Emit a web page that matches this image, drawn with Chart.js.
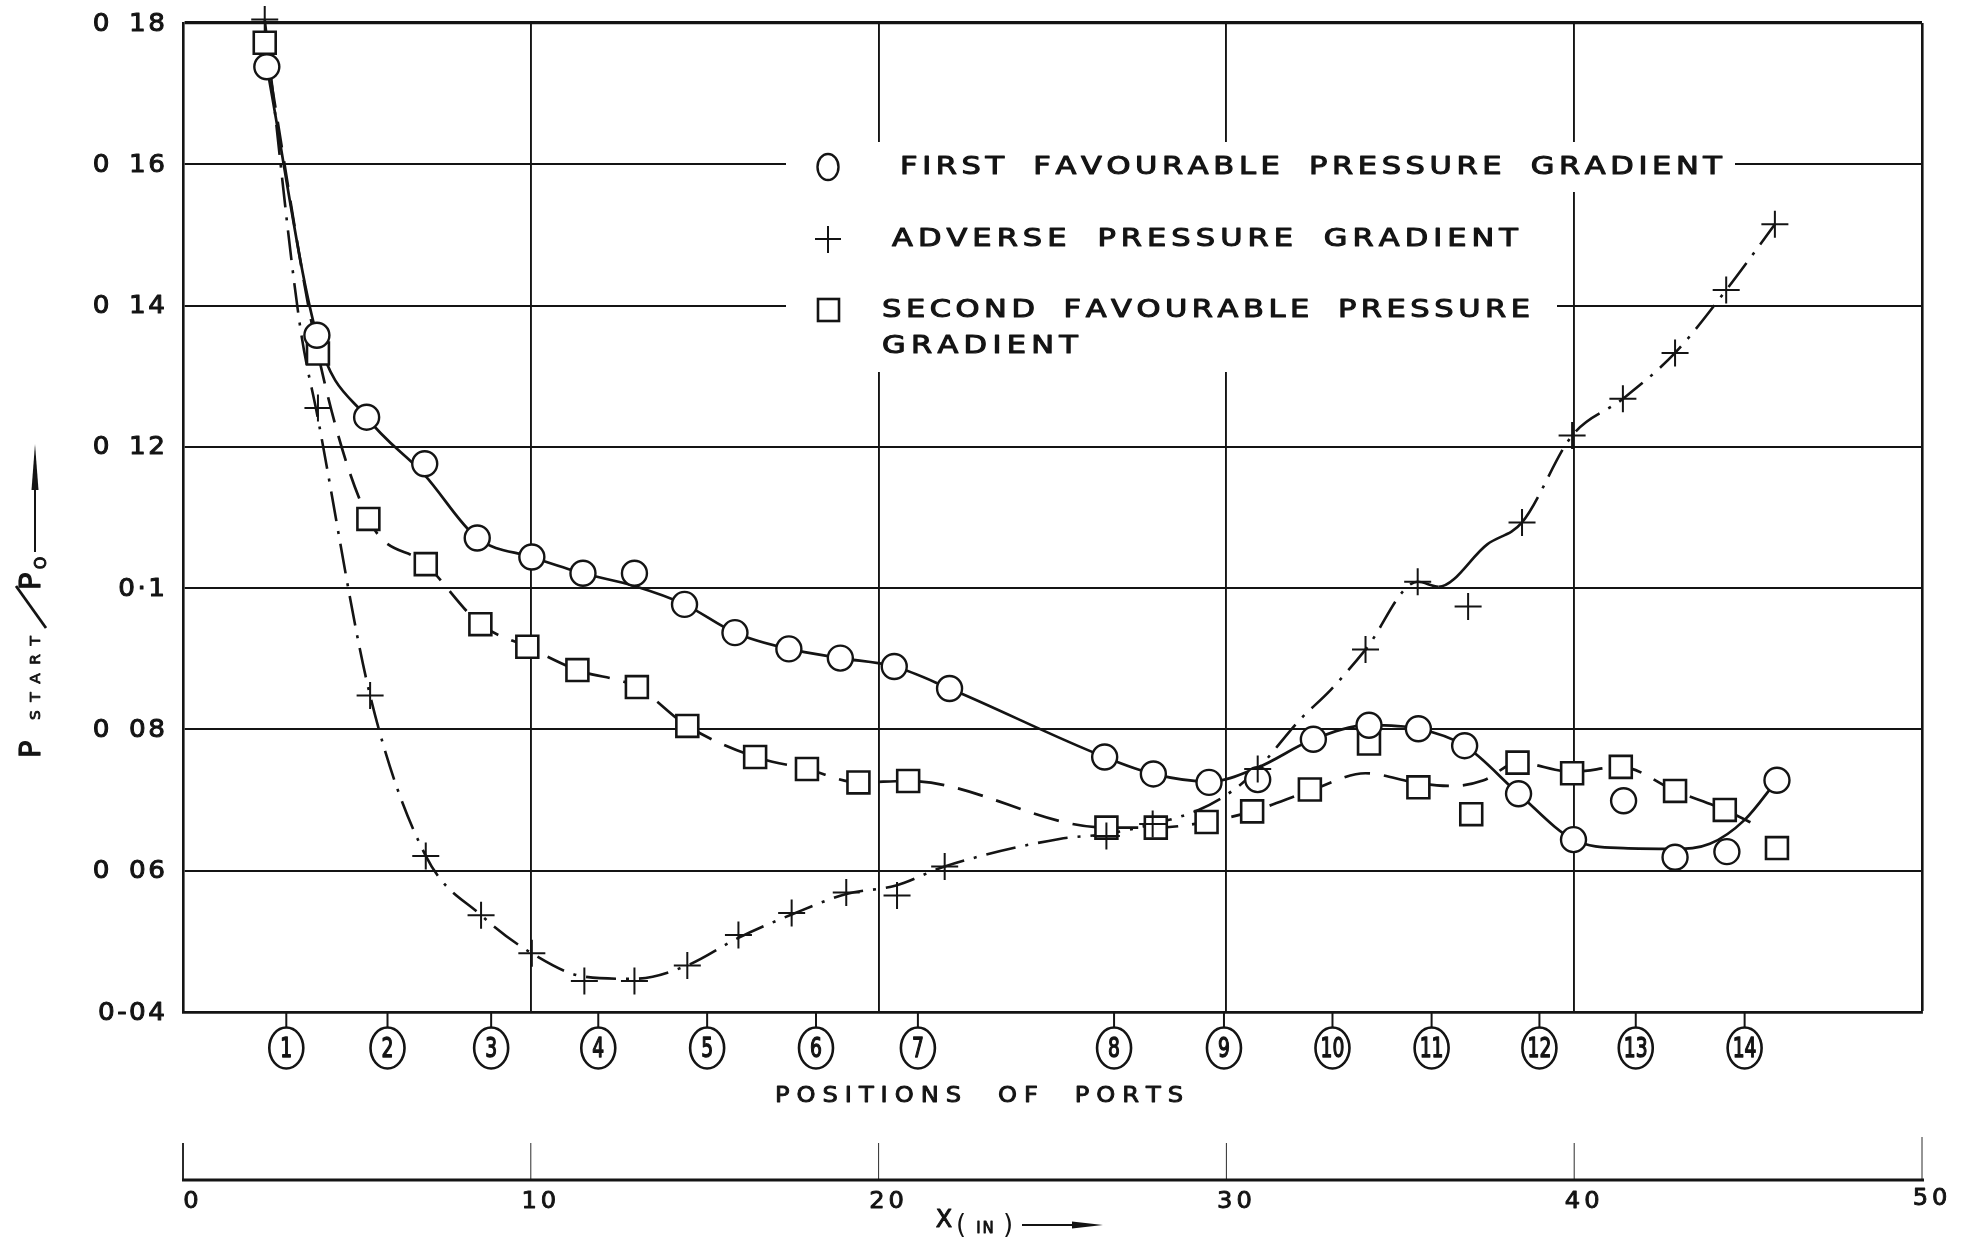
<!DOCTYPE html>
<html><head><meta charset="utf-8">
<script src="https://cdn.jsdelivr.net/npm/chart.js@4/dist/chart.umd.min.js"></script>
<style>html,body{margin:0;padding:0;background:#fff;}canvas{display:block;}</style>
</head><body>
<canvas id="c" width="1983" height="1240"></canvas>
<script>
// ---------------- data ----------------
// x = X (inches), y = p_start / p_0
const firstFavX = [2.41, 3.85, 5.28, 6.95, 8.46, 10.03, 11.5, 12.98, 14.42, 15.87, 17.42, 18.9, 20.45, 22.04, 26.5, 27.9, 29.5, 30.9, 32.5, 34.1, 35.52, 36.85, 38.4, 39.98, 41.42, 42.9, 44.39, 45.83];
const firstFavY = [0.1738, 0.1358, 0.1242, 0.1176, 0.1071, 0.1044, 0.1021, 0.1021, 0.0977, 0.0937, 0.0914, 0.0901, 0.0889, 0.0858, 0.0761, 0.0737, 0.0725, 0.0729, 0.0786, 0.0806, 0.0801, 0.0777, 0.0709, 0.0644, 0.0699, 0.0619, 0.0627, 0.0728];

const adverseX = [2.35, 3.88, 5.38, 6.98, 8.57, 10.03, 11.54, 12.98, 14.5, 15.97, 17.5, 19.07, 20.53, 21.9, 26.55, 27.88, 30.9, 34.0, 35.5, 36.95, 38.5, 39.94, 41.4, 42.9, 44.37, 45.77];
const adverseY = [0.1805, 0.1255, 0.0848, 0.0621, 0.0537, 0.0483, 0.0444, 0.0444, 0.0466, 0.0509, 0.054, 0.0569, 0.0565, 0.0606, 0.0649, 0.0666, 0.0744, 0.0913, 0.1009, 0.0974, 0.1093, 0.1216, 0.1268, 0.1333, 0.1422, 0.1515];

const secondFavX = [2.35, 3.88, 5.33, 6.98, 8.55, 9.9, 11.34, 13.05, 14.5, 16.45, 17.94, 19.42, 20.85, 26.55, 27.97, 29.43, 30.74, 32.4, 34.1, 35.52, 37.04, 38.37, 39.94, 41.34, 42.9, 44.33, 45.83];
const secondFavY = [0.1772, 0.1332, 0.1098, 0.1034, 0.0949, 0.0917, 0.0884, 0.086, 0.0805, 0.0761, 0.0744, 0.0725, 0.0727, 0.0661, 0.0661, 0.0669, 0.0684, 0.0715, 0.078, 0.0718, 0.068, 0.0753, 0.0738, 0.0747, 0.0713, 0.0686, 0.0632];

// faired curves as drawn in the picture
const firstCurveX = [2.41, 3.85, 5.28, 6.95, 8.46, 10.03, 11.5, 12.98, 14.42, 15.87, 17.42, 18.9, 20.45, 22.04, 26.5, 27.9, 29.5, 30.9, 32.5, 34.1, 35.52, 36.85, 38.4, 39.98, 41.42, 42.9, 43.9, 44.9, 45.83];
const firstCurveY = [0.1738, 0.1358, 0.1242, 0.1160, 0.1071, 0.1044, 0.1021, 0.1003, 0.0977, 0.0937, 0.0914, 0.0901, 0.0889, 0.0858, 0.0761, 0.0737, 0.0726, 0.0746, 0.0786, 0.0806, 0.0801, 0.0777, 0.0709, 0.0644, 0.0632, 0.0631, 0.0638, 0.0672, 0.0728];

const secondCurveX = [2.35, 3.88, 5.33, 6.98, 8.55, 9.9, 11.34, 13.05, 14.5, 16.45, 17.94, 19.42, 20.85, 26.55, 27.97, 29.43, 30.74, 32.4, 34.0, 35.5, 36.5, 37.4, 38.37, 39.94, 41.34, 42.9, 44.33, 45.3];
const secondCurveY = [0.1772, 0.1332, 0.1098, 0.1034, 0.0949, 0.0917, 0.0884, 0.086, 0.0805, 0.0761, 0.0744, 0.0725, 0.0727, 0.0661, 0.0661, 0.0669, 0.0684, 0.0713, 0.0738, 0.0724, 0.0720, 0.0728, 0.0753, 0.0740, 0.0747, 0.0713, 0.0686, 0.0663];

const adverseCurveX = [2.35, 3.36, 3.88, 5.38, 6.98, 8.57, 10.03, 11.54, 12.98, 14.5, 15.97, 17.5, 19.07, 20.5, 21.9, 25.2, 26.55, 27.88, 29.2, 30.2, 30.9, 32.1, 33.0, 34.0, 35.5, 36.1, 37.5, 38.5, 39.94, 41.4, 42.9, 44.37, 45.77];
const adverseCurveY = [0.1805, 0.1373, 0.1240, 0.0848, 0.0621, 0.0537, 0.0483, 0.0450, 0.0447, 0.0466, 0.0505, 0.0538, 0.0567, 0.0579, 0.0606, 0.0645, 0.0652, 0.0666, 0.0686, 0.0714, 0.0744, 0.0813, 0.0856, 0.0913, 0.1009, 0.1002, 0.1062, 0.1093, 0.1216, 0.1268, 0.1333, 0.1422, 0.1515];

// axes / labels
const yTickValues = [0.04, 0.06, 0.08, 0.10, 0.12, 0.14, 0.16, 0.18];
const yTickLabels = ['0-04', '0 06', '0 08', '0·1', '0 12', '0 14', '0 16', '0 18'];
const xTickValues = [0, 10, 20, 30, 40, 50];
const xTickLabels = ['0', '10', '20', '30', '40', '50'];
const portPositions = [2.97, 5.88, 8.86, 11.94, 15.07, 18.2, 21.13, 26.77, 29.93, 33.05, 35.9, 39.0, 41.77, 44.9];
const portLabels = ['1','2','3','4','5','6','7','8','9','10','11','12','13','14'];
const seriesNames = ['FIRST FAVOURABLE PRESSURE GRADIENT', 'ADVERSE PRESSURE GRADIENT', 'SECOND FAVOURABLE PRESSURE', 'GRADIENT'];
const portsTitle = 'POSITIONS OF PORTS';

// ---------------- drawing ----------------
const INK = '#141414';
const FONT = "'DejaVu Sans', 'Liberation Sans', sans-serif";
const pts = (xs, ys) => xs.map((x, i) => ({x: x, y: ys[i]}));

// draws lettering-like text: each glyph widened by sx, optional stroke, spacing to fit a width
function spaced(ctx, text, x, y, width, size, opts) {
  opts = opts || {};
  const sx = opts.sx || 1;
  ctx.font = (opts.weight || '') + ' ' + size + 'px ' + FONT;
  const chars = Array.from(text);
  const ws = chars.map(c => ctx.measureText(c).width * sx);
  const nat = ws.reduce((a, b) => a + b, 0);
  const nSp = chars.filter(c => c === ' ').length;
  const wsf = opts.wsf === undefined ? 1.5 : opts.wsf;
  let ls = opts.ls || 0;
  if (width) ls = (width - nat) / ((chars.length - 1) + wsf * nSp);
  const total = nat + ls * (chars.length - 1) + wsf * ls * nSp;
  let cx = x;
  if (opts.align === 'center') cx = x - total / 2;
  else if (opts.align === 'right') cx = x - total;
  ctx.textAlign = 'left';
  ctx.textBaseline = opts.baseline || 'middle';
  ctx.lineWidth = opts.stroke || 0;
  ctx.lineJoin = 'round';
  chars.forEach((c, i) => {
    ctx.save();
    ctx.translate(cx, y);
    ctx.scale(sx, 1);
    ctx.fillText(c, 0, 0);
    if (opts.stroke) ctx.strokeText(c, 0, 0);
    ctx.restore();
    cx += ws[i] + ls + (c === ' ' ? wsf * ls : 0);
  });
}

const paper = {
  id: 'paper',
  beforeDatasetsDraw(chart) {
    const ctx = chart.ctx;
    ctx.save();
    // legend background interrupts the grid, as in the drawing
    ctx.fillStyle = '#fff';
    ctx.fillRect(786, 142, 1735 - 786, 50);
    ctx.fillRect(786, 192, 1557 - 786, 180);
    ctx.fillStyle = INK; ctx.strokeStyle = INK; ctx.lineWidth = 2.4;
    // legend symbols
    ctx.beginPath(); ctx.ellipse(828, 167, 10.5, 13, 0, 0, Math.PI * 2); ctx.stroke();
    ctx.lineWidth = 2;
    ctx.beginPath(); ctx.moveTo(815, 239); ctx.lineTo(841, 239); ctx.moveTo(828, 226); ctx.lineTo(828, 253); ctx.stroke();
    ctx.lineWidth = 2.6;
    ctx.strokeRect(818, 299, 21, 22);
    // legend texts
    const lo = {sx: 1.22, stroke: 1.1, wsf: 2.2};
    spaced(ctx, seriesNames[0], 900, 167, 822, 25, lo);
    spaced(ctx, seriesNames[1], 892, 239, 626, 25, lo);
    spaced(ctx, seriesNames[2], 882, 310, 648, 25, lo);
    spaced(ctx, seriesNames[3], 882, 346, 196, 25, lo);
    ctx.restore();
  },
  afterDraw(chart) {
    const ctx = chart.ctx;
    const xs = chart.scales.x, ys = chart.scales.y;
    const bottom = chart.chartArea.bottom;
    ctx.save();
    ctx.fillStyle = INK; ctx.strokeStyle = INK;

    // y tick labels
    yTickValues.forEach((v, i) => {
      spaced(ctx, yTickLabels[i], 165, ys.getPixelForValue(v) + 1, null, 25, {ls: 2.5, wsf: 2.5, align: 'right', sx: 1.05, stroke: 1});
    });

    // ports axis
    portPositions.forEach((p, i) => {
      const px = xs.getPixelForValue(p);
      ctx.lineWidth = 2;
      ctx.beginPath(); ctx.moveTo(px, bottom); ctx.lineTo(px, 1028); ctx.stroke();
      ctx.lineWidth = 2.6;
      ctx.beginPath(); ctx.ellipse(px, 1048, 17, 20.5, 0, 0, Math.PI * 2); ctx.stroke();
      ctx.save();
      ctx.translate(px, 1050);
      ctx.scale(0.72, 1);
      ctx.font = '26px ' + FONT;
      ctx.lineWidth = 1.4;
      ctx.textAlign = 'center'; ctx.textBaseline = 'middle';
      ctx.fillText(portLabels[i], 0, 0);
      ctx.strokeText(portLabels[i], 0, 0);
      ctx.restore();
    });
    spaced(ctx, portsTitle, 979, 1097, 408, 21, {align: 'center', sx: 1.15, stroke: 0.9, wsf: 2.2});

    // lower X axis
    const x0 = xs.getPixelForValue(xTickValues[0]);
    const x1 = xs.getPixelForValue(xTickValues[xTickValues.length - 1]);
    ctx.lineWidth = 2.8;
    ctx.beginPath(); ctx.moveTo(x0 - 1, 1180); ctx.lineTo(x1 + 2, 1180); ctx.stroke();
    ctx.lineWidth = 1.8;
    xTickValues.forEach((v, i) => {
      const px = xs.getPixelForValue(v);
      ctx.beginPath(); ctx.moveTo(px, 1180); ctx.lineTo(px, i === xTickValues.length - 1 ? 1137 : 1143); ctx.stroke();
      spaced(ctx, xTickLabels[i], px + 8, i === xTickValues.length - 1 ? 1199 : 1202, null, 23, {ls: 4, align: 'center', stroke: 0.9, sx: 1.05});
    });

    // X(IN) title with arrow
    ctx.save();
    ctx.lineWidth = 1;
    ctx.font = '24px ' + FONT; ctx.textAlign = 'center'; ctx.textBaseline = 'middle';
    ctx.fillText('X', 944, 1221); ctx.strokeText('X', 944, 1221);
    ctx.font = '26px ' + FONT;
    ctx.fillText('(', 961, 1226);
    ctx.fillText(')', 1008, 1226);
    ctx.restore();
    spaced(ctx, 'IN', 985, 1229, null, 15, {ls: 2, align: 'center', stroke: 0.8});
    ctx.lineWidth = 2;
    ctx.beginPath(); ctx.moveTo(1022, 1225); ctx.lineTo(1078, 1225); ctx.stroke();
    ctx.beginPath(); ctx.moveTo(1072, 1221.5); ctx.lineTo(1103, 1225); ctx.lineTo(1072, 1228.5); ctx.closePath(); ctx.fill();

    // y title  P_START / P_O  with arrow (rotated)
    ctx.save();
    ctx.translate(40, 758);
    ctx.rotate(-Math.PI / 2);
    ctx.lineWidth = 1.2;
    ctx.font = '29px ' + FONT; ctx.textBaseline = 'alphabetic'; ctx.textAlign = 'left';
    ctx.fillText('P', 0, 0); ctx.strokeText('P', 0, 0);
    spaced(ctx, 'START', 38, 0, 84, 14, {baseline: 'alphabetic', stroke: 0.8, sx: 1.1});
    ctx.lineWidth = 2.8;
    ctx.beginPath(); ctx.moveTo(130, 6); ctx.lineTo(172, -24); ctx.stroke();
    ctx.lineWidth = 1.2;
    ctx.font = '29px ' + FONT; ctx.textBaseline = 'alphabetic';
    ctx.fillText('P', 168, 0); ctx.strokeText('P', 168, 0);
    spaced(ctx, 'O', 195, 6, null, 16, {align: 'center', baseline: 'alphabetic', stroke: 1});
    ctx.lineWidth = 2;
    ctx.beginPath(); ctx.moveTo(206, -5); ctx.lineTo(284, -5); ctx.stroke();
    ctx.beginPath(); ctx.moveTo(268, -8.5); ctx.lineTo(314, -5); ctx.lineTo(268, -1.5); ctx.closePath(); ctx.fill();
    ctx.restore();

    ctx.restore();
  }
};

const solid = [];
const dashed = [26, 14];
const dashDot = [30, 10, 3, 10];

new Chart(document.getElementById('c'), {
  type: 'scatter',
  data: {
    datasets: [
      {label: 'ADVERSE', data: pts(adverseX, adverseY), pointStyle: 'cross', pointRadius: 13.5, pointBorderWidth: 2,
       borderColor: INK, showLine: false, order: 0, clip: false},
      {label: 'FIRST', data: pts(firstFavX, firstFavY), pointStyle: 'circle', pointRadius: 12.5, pointBorderWidth: 2.4,
       pointBackgroundColor: '#fff', pointBorderColor: INK, showLine: false, order: 1, clip: false},
      {label: 'SECOND', data: pts(secondFavX, secondFavY), pointStyle: 'rect', pointRadius: 15.5, pointBorderWidth: 2.6,
       pointBackgroundColor: '#fff', pointBorderColor: INK, showLine: false, order: 2, clip: false},
      {label: 'first curve', data: pts(firstCurveX, firstCurveY), showLine: true, pointRadius: 0, borderColor: INK,
       borderWidth: 2.7, cubicInterpolationMode: 'monotone', borderDash: solid, order: 5, clip: false},
      {label: 'second curve', data: pts(secondCurveX, secondCurveY), showLine: true, pointRadius: 0, borderColor: INK,
       borderWidth: 2.7, cubicInterpolationMode: 'monotone', borderDash: dashed, order: 6, clip: false},
      {label: 'adverse curve', data: pts(adverseCurveX, adverseCurveY), showLine: true, pointRadius: 0, borderColor: INK,
       borderWidth: 2.6, cubicInterpolationMode: 'monotone', borderDash: dashDot, order: 7, clip: false,
       segment: {borderDash: c => (c.p0.parsed.x >= 35.9 && c.p1.parsed.x <= 38.6) ? solid : dashDot}}
    ]
  },
  options: {
    responsive: false, animation: false, devicePixelRatio: 1,
    layout: {padding: {left: 0, right: 61, top: 23, bottom: 0}},
    plugins: {legend: {display: false}, tooltip: {enabled: false}},
    scales: {
      x: {
        type: 'linear', min: 0, max: 50,
        afterBuildTicks: s => { s.ticks = xTickValues.map(v => ({value: v})); },
        afterFit: s => { s.height = 228; },
        ticks: {display: false},
        grid: {color: INK, lineWidth: c => (c.tick && c.tick.value === 50) ? 2.6 : 1.9, drawTicks: false},
        border: {display: true, color: INK, width: 2.8}
      },
      y: {
        type: 'linear', min: 0.04, max: 0.18,
        afterBuildTicks: s => { s.ticks = yTickValues.map(v => ({value: v})); },
        afterFit: s => { s.width = 183; },
        ticks: {display: false},
        grid: {color: INK, lineWidth: c => (c.tick && c.tick.value === 0.18) ? 3.2 : 1.9, drawTicks: false},
        border: {display: true, color: INK, width: 2.6}
      }
    }
  },
  plugins: [paper]
});
</script>
</body></html>
